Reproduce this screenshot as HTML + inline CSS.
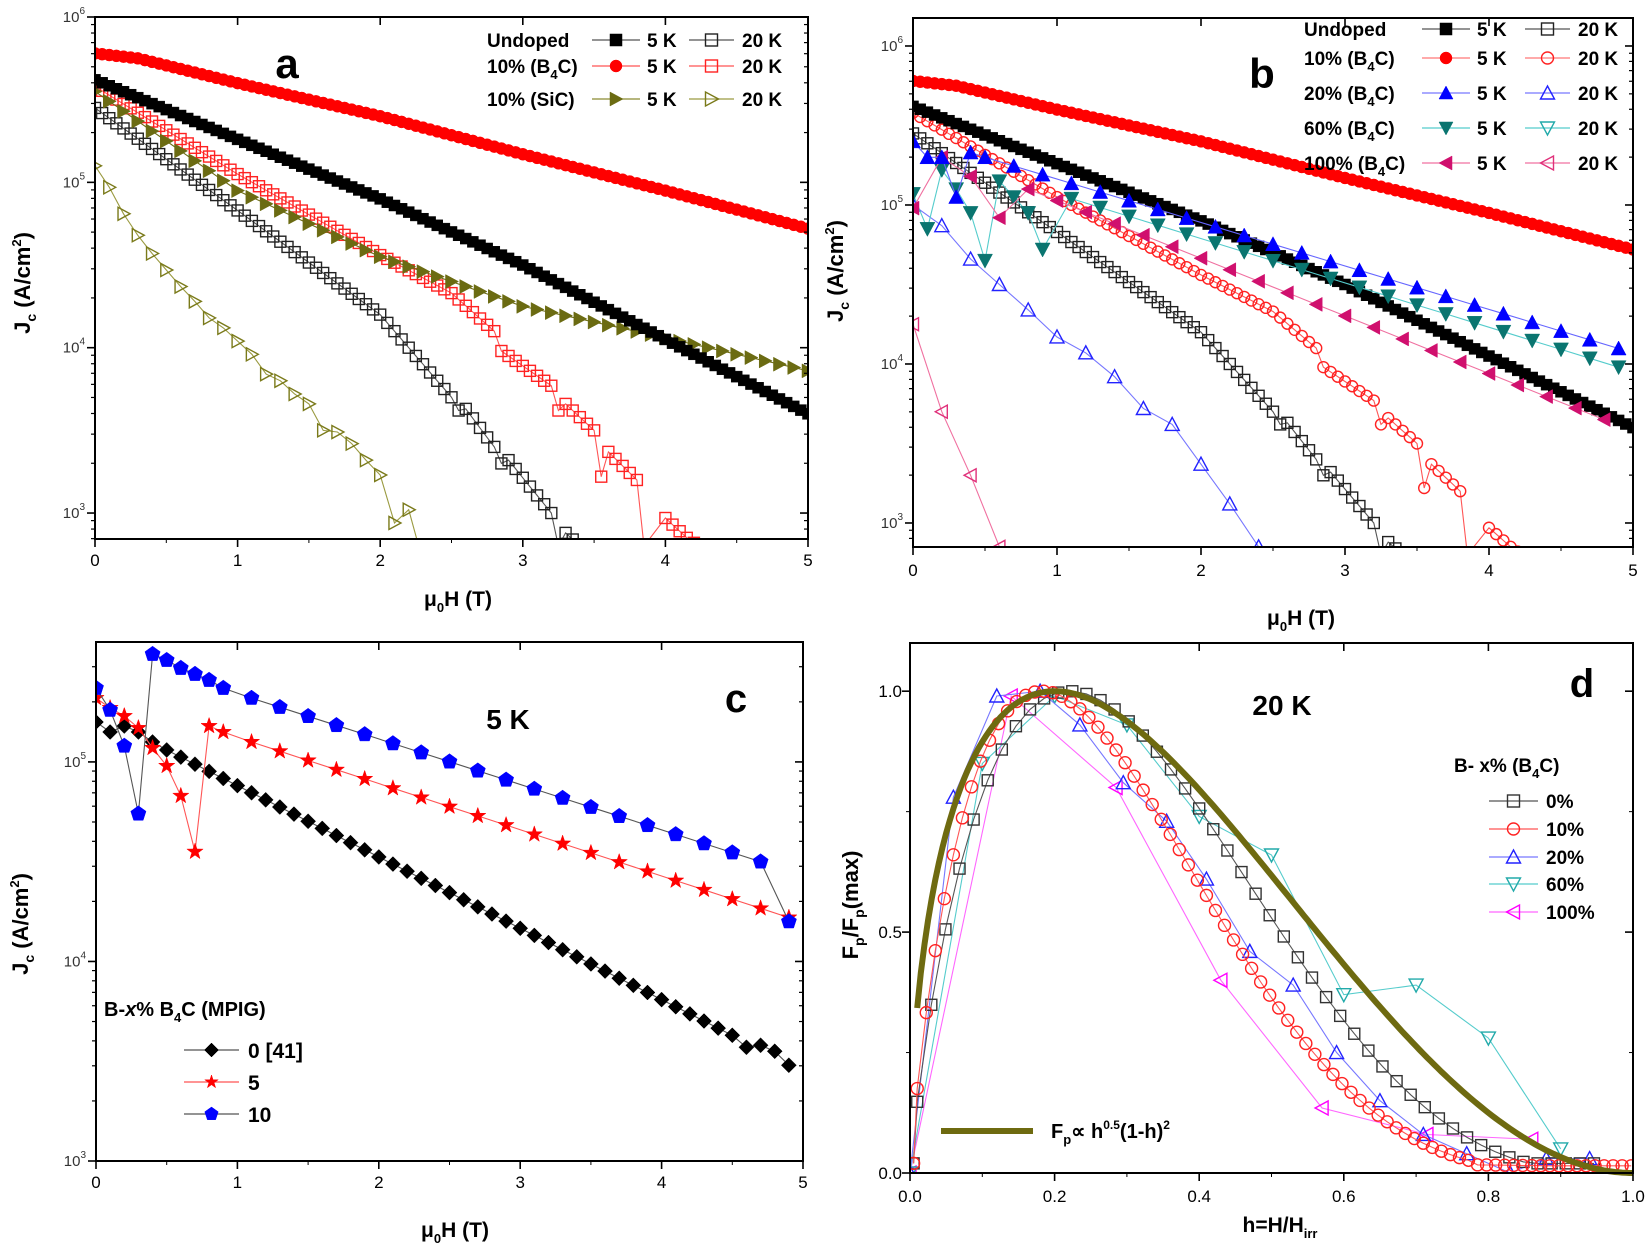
<!DOCTYPE html>
<html><head><meta charset="utf-8"><style>
html,body{margin:0;padding:0;background:#fff;}
svg{display:block;font-family:"Liberation Sans",Arial,sans-serif;}
</style></head><body>
<svg id="s" width="1650" height="1251" viewBox="0 0 1650 1251" xmlns="http://www.w3.org/2000/svg"></svg>
<script>
const S=document.getElementById('s');let out='';
function interp(pts,x){for(let i=0;i<pts.length-1;i++){if(x>=pts[i][0]&&x<=pts[i+1][0]){const t=(x-pts[i][0])/(pts[i+1][0]-pts[i][0]);return pts[i][1]+t*(pts[i+1][1]-pts[i][1]);}}return pts[pts.length-1][1];}
function gen(pts,x0,x1,st){const r=[];for(let x=x0;x<=x1+1e-9;x+=st)r.push([x,interp(pts,x)]);return r;}
function marker(type,x,y,fill,stroke,s){s=s||11;const h=s/2;const f=fill?stroke:'#fff';const sw=fill?0.5:1.4;let o='';
switch(type){
case 'sq':o=`<rect x="${x-h}" y="${y-h}" width="${s}" height="${s}" fill="${fill?stroke:'#fff'}" fill-opacity="${fill?1:0}" stroke="${stroke}" stroke-width="${sw}"/>`;break;
case 'ci':o=`<circle cx="${x}" cy="${y}" r="${h}" fill="${f}" fill-opacity="${fill?1:0}" stroke="${stroke}" stroke-width="${sw}"/>`;break;
case 'up':o=`<polygon points="${x},${y-h-1} ${x+h+1},${y+h} ${x-h-1},${y+h}" fill="${f}" fill-opacity="${fill?1:0}" stroke="${stroke}" stroke-width="${sw}"/>`;break;
case 'dn':o=`<polygon points="${x},${y+h+1} ${x+h+1},${y-h} ${x-h-1},${y-h}" fill="${f}" fill-opacity="${fill?1:0}" stroke="${stroke}" stroke-width="${sw}"/>`;break;
case 'rt':o=`<polygon points="${x+h+1},${y} ${x-h},${y-h-1} ${x-h},${y+h+1}" fill="${f}" fill-opacity="${fill?1:0}" stroke="${stroke}" stroke-width="${sw}"/>`;break;
case 'lt':o=`<polygon points="${x-h-1},${y} ${x+h},${y-h-1} ${x+h},${y+h+1}" fill="${f}" fill-opacity="${fill?1:0}" stroke="${stroke}" stroke-width="${sw}"/>`;break;
case 'di':o=`<polygon points="${x},${y-h-1} ${x+h+1},${y} ${x},${y+h+1} ${x-h-1},${y}" fill="${f}" stroke="${stroke}" stroke-width="${sw}"/>`;break;
case 'st':{let p=[];for(let i=0;i<10;i++){const a=-Math.PI/2+i*Math.PI/5;const r=i%2?h*0.45:h+1;p.push((x+r*Math.cos(a)).toFixed(1)+','+(y+r*Math.sin(a)).toFixed(1));}o=`<polygon points="${p.join(' ')}" fill="${f}" stroke="${stroke}" stroke-width="${sw}"/>`;}break;
case 'pe':{let p=[];for(let i=0;i<5;i++){const a=-Math.PI/2+i*2*Math.PI/5;p.push((x+(h+1)*Math.cos(a)).toFixed(1)+','+(y+(h+1)*Math.sin(a)).toFixed(1));}o=`<polygon points="${p.join(' ')}" fill="${f}" stroke="${stroke}" stroke-width="${sw}"/>`;}break;}
return o;}
function panel(P){
 const {L,R,T,B,x0,x1,y0,y1,log}=P;
 P.X=x=>L+(x-x0)/(x1-x0)*(R-L);
 P.Y=y=>B-(y-y0)/(y1-y0)*(B-T);
 out+=`<clipPath id="c${P.id}"><rect x="${L}" y="${T}" width="${R-L}" height="${B-T}"/></clipPath>`;
}
function axes(P,xt,xfmt,yt){
 const {L,R,T,B}=P;let o='';
 o+=`<rect x="${L}" y="${T}" width="${R-L}" height="${B-T}" fill="none" stroke="#000" stroke-width="2"/>`;
 xt.forEach(v=>{const x=P.X(v);o+=`<line x1="${x}" y1="${B}" x2="${x}" y2="${B+8}" stroke="#000" stroke-width="1.6"/><line x1="${x}" y1="${T}" x2="${x}" y2="${T+8}" stroke="#000" stroke-width="1.6"/><text x="${x}" y="${P.tly}" font-size="17" text-anchor="middle">${xfmt(v)}</text>`;});
 if(P.xminor)P.xminor.forEach(v=>{const x=P.X(v);o+=`<line x1="${x}" y1="${B}" x2="${x}" y2="${B+4}" stroke="#000" stroke-width="1.2"/>`;});
 if(P.log){for(let d=Math.floor(P.y0);d<=Math.ceil(P.y1);d++){for(let m=1;m<10;m++){const v=d+Math.log10(m);if(v<P.y0||v>P.y1)continue;const y=P.Y(v);const len=m==1?8:4;o+=`<line x1="${L-len}" y1="${y}" x2="${L}" y2="${y}" stroke="#000" stroke-width="${m==1?1.6:1.2}"/><line x1="${R}" y1="${y}" x2="${R-len}" y2="${y}" stroke="#000" stroke-width="${m==1?1.6:1.2}"/>`;if(m==1)o+=`<text x="${L-10}" y="${y+5}" font-size="15" text-anchor="end" fill="#333">10<tspan font-size="10" dy="-8">${d}</tspan></text>`;}}}
 else{yt.forEach(v=>{const y=P.Y(v);o+=`<line x1="${L-8}" y1="${y}" x2="${L}" y2="${y}" stroke="#000" stroke-width="1.6"/><line x1="${R}" y1="${y}" x2="${R-8}" y2="${y}" stroke="#000" stroke-width="1.6"/><text x="${L-8}" y="${y+6}" font-size="17" text-anchor="end">${v.toFixed(1)}</text>`;});
  [0.25,0.75].forEach(v=>{const y=P.Y(v);o+=`<line x1="${L-4}" y1="${y}" x2="${L}" y2="${y}" stroke="#000"/><line x1="${R}" y1="${y}" x2="${R-4}" y2="${y}" stroke="#000"/>`;});}
 out+=o;}
function series(P,data,type,fill,color,lineColor,s){
 let o=`<g clip-path="url(#c${P.id})">`;
 const pts=data.map(d=>[P.X(d[0]),P.Y(d[1])]);
 o+=`<polyline points="${pts.map(p=>p[0].toFixed(1)+','+p[1].toFixed(1)).join(' ')}" fill="none" stroke="${lineColor}" stroke-width="1.1"/>`;
 pts.forEach(p=>o+=marker(type,p[0],p[1],fill,color,s));
 out+=o+'</g>';}
function legItem(x1,x2,y,type,fill,color,lc){out+=`<line x1="${x1}" y1="${y}" x2="${x2}" y2="${y}" stroke="${lc}" stroke-width="1.3"/>`+marker(type,(x1+x2)/2,y,fill,color,12);}
function txt(x,y,t,fs,anchor,extra){out+=`<text x="${x}" y="${y}" font-size="${fs}" font-weight="bold" text-anchor="${anchor||'start'}" ${extra||''}>${t}</text>`;}

// data
const U5=[[0,5.62],[1,5.26],[2,4.9],[3,4.5],[4,4.05],[5,3.6]];
const B5=[[0,5.78],[0.3,5.75],[1,5.6],[2,5.4],[3,5.17],[4,4.95],[5,4.72]];
const B20=[[0,5.58],[1,5.05],[2,4.56],[2.5,4.33],[2.8,4.1],[2.85,3.98],[3.2,3.77],[3.25,3.62],[3.3,3.66],[3.5,3.5],[3.55,3.22],[3.6,3.37],[3.8,3.2],[3.85,2.8]];
const B20t=[[4.0,2.97],[4.05,2.93],[4.1,2.89],[4.15,2.85],[4.2,2.82]];
const U20=[[0,5.45],[1,4.83],[2,4.2],[2.5,3.7],[2.55,3.62],[2.6,3.63],[2.8,3.4],[2.85,3.3],[2.9,3.32],[3.2,3.0],[3.25,2.8]];
const U20t=[[3.3,2.88],[3.35,2.84]];
const S5=[[0,5.55],[1,4.95],[2,4.55],[3,4.25],[4,4.06],[5,3.86]];
const S20=[[0,5.1],[0.1,4.97],[0.2,4.81],[0.3,4.68],[0.4,4.57],[0.5,4.47],[0.6,4.37],[0.7,4.28],[0.8,4.18],[0.9,4.12],[1,4.04],[1.1,3.96],[1.2,3.84],[1.3,3.8],[1.4,3.72],[1.5,3.66],[1.6,3.5],[1.7,3.49],[1.8,3.42],[1.9,3.32],[2.0,3.23],[2.1,2.94],[2.2,3.02],[2.27,2.8]];

// Panel a
const A={id:'a',L:95,R:808,T:17,B:539,x0:0,x1:5,y0:2.843,y1:6,log:true,tly:566};panel(A);
const pick=(arr,st)=>gen(arr,0,arr[arr.length-1][0],st);
series(A,S20,'rt',false,'#7a7a1a','#9a9a40',11);
series(A,pick(U20,0.05).concat(U20t),'sq',false,'#222','#555',11);
series(A,pick(B20,0.05).concat(B20t),'sq',false,'#f22','#f55',11);
series(A,gen(S5,0,5,0.1),'rt',true,'#6b6b12','#6b6b12',12);
series(A,gen(U5,0,5,0.05),'sq',true,'#000','#000',11);
series(A,gen(B5,0,5,0.05),'ci',true,'#f00','#f00',12);
axes(A,[0,1,2,3,4,5],v=>v,[]);A.xminor=null;
[0.5,1.5,2.5,3.5,4.5].forEach(v=>{const x=A.X(v);out+=`<line x1="${x}" y1="${A.B}" x2="${x}" y2="${A.B+4}" stroke="#000"/>`});
txt(287,78,'a',42,'middle');
txt(30,283,'J<tspan font-size="14" dy="6">c</tspan><tspan dy="-6"> (A/cm</tspan><tspan font-size="13" dy="-9">2</tspan><tspan dy="9">)</tspan>',22,'middle','transform="rotate(-90 30 283)"');
txt(458,606,'μ<tspan font-size="13" dy="6">0</tspan><tspan dy="-6">H (T)</tspan>',21,'middle');
const la=[[40,'Undoped','sq',true,'#000','#555','sq',false,'#222','#555'],[66,'10% (B<tspan font-size="13" dy="6">4</tspan><tspan dy="-6">C)</tspan>','ci',true,'#f00','#f55','sq',false,'#f22','#f55'],[99,'10% (SiC)','rt',true,'#6b6b12','#8a8a30','rt',false,'#7a7a1a','#9a9a40']];
la.forEach(r=>{txt(487,r[0]+7,r[1],19);legItem(592,640,r[0],r[2],r[3],r[4],r[5]);txt(647,r[0]+7,'5 K',19);legItem(689,734,r[0],r[6],r[7],r[8],r[9]);txt(742,r[0]+7,'20 K',19);});

// Panel b
const Bp={id:'b',L:913,R:1633,T:18,B:547,x0:0,x1:5,y0:2.849,y1:6.176,log:true,tly:576};panel(Bp);
const T20=[[0,5.0],[0.2,4.87],[0.4,4.66],[0.6,4.5],[0.8,4.34],[1,4.17],[1.2,4.07],[1.4,3.92],[1.6,3.72],[1.8,3.62],[2.0,3.37],[2.2,3.12],[2.4,2.85]];
const P20=[[0,4.25],[0.2,3.7],[0.4,3.3],[0.6,2.85]];
const T5=[[0,5.4],[0.1,5.3],[0.2,5.3],[0.3,5.05],[0.4,5.33]].concat(gen([[0.5,5.3],[5,4.07]],0.5,4.9,0.2).map(d=>[d[0],d[1]]));
const V5=[[0,5.07],[0.1,4.85],[0.2,5.22],[0.3,5.1],[0.4,4.95],[0.5,4.65],[0.6,5.15],[0.7,5.05],[0.8,4.95],[0.9,4.72]].concat(gen([[1.1,5.04],[4.9,3.98]],1.1,4.9,0.2));
const L5=[[0,4.98],[0.2,5.3],[0.4,5.18],[0.6,4.92]].concat(gen([[0.8,5.1],[4.8,3.65]],0.8,4.8,0.2));
series(Bp,P20,'lt',false,'#e0307a','#f070a0',11);
series(Bp,T20,'up',false,'#22f','#77f',12);
series(Bp,pick(U20,0.05).concat(U20t),'sq',false,'#222','#555',11);
series(Bp,pick(B20,0.05).concat(B20t),'ci',false,'#f22','#f55',11);
series(Bp,gen(U5,0,5,0.05),'sq',true,'#000','#000',11);
series(Bp,V5,'dn',true,'#0a7570','#5cc','13');
series(Bp,L5,'lt',true,'#d0106e','#f070a0',12);
series(Bp,T5,'up',true,'#00f','#66f',13);
series(Bp,gen(B5,0,5,0.05),'ci',true,'#f00','#f00',12);
axes(Bp,[0,1,2,3,4,5],v=>v,[]);
[0.5,1.5,2.5,3.5,4.5].forEach(v=>{const x=Bp.X(v);out+=`<line x1="${x}" y1="${Bp.B}" x2="${x}" y2="${Bp.B+4}" stroke="#000"/>`});
txt(1262,88,'b',42,'middle');
txt(843,271,'J<tspan font-size="14" dy="6">c</tspan><tspan dy="-6"> (A/cm</tspan><tspan font-size="13" dy="-9">2</tspan><tspan dy="9">)</tspan>',22,'middle','transform="rotate(-90 843 271)"');
txt(1301,625,'μ<tspan font-size="13" dy="6">0</tspan><tspan dy="-6">H (T)</tspan>',21,'middle');
const B4='(B<tspan font-size="13" dy="6">4</tspan><tspan dy="-6">C)</tspan>';
const lb=[[29,'Undoped','sq',true,'#000','#555','sq',false,'#222','#555'],[58,'10% '+B4,'ci',true,'#f00','#f77','ci',false,'#f22','#f77'],[93,'20% '+B4,'up',true,'#00f','#77f','up',false,'#22f','#77f'],[128,'60% '+B4,'dn',true,'#0a7570','#5cc','dn',false,'#2aa','#5cc'],[163,'100% '+B4,'lt',true,'#d0106e','#f070a0','lt',false,'#e0307a','#f070a0']];
lb.forEach(r=>{txt(1304,r[0]+7,r[1],19);legItem(1422,1470,r[0],r[2],r[3],r[4],r[5]);txt(1477,r[0]+7,'5 K',19);legItem(1525,1570,r[0],r[6],r[7],r[8],r[9]);txt(1578,r[0]+7,'20 K',19);});

// Panel c
const C={id:'c',L:96,R:803,T:642,B:1161,x0:0,x1:5,y0:3,y1:5.601,log:true,tly:1188};panel(C);
const D0=[[0,5.2],[0.1,5.15],[0.2,5.18],[0.3,5.15],[0.4,5.1]].concat(gen([[0.5,5.06],[4.5,3.63]],0.5,4.5,0.1)).concat([[4.6,3.57],[4.7,3.58],[4.8,3.55],[4.9,3.48]]);
const ST=[[0,5.32],[0.1,5.27],[0.2,5.23],[0.3,5.17],[0.4,5.07],[0.5,4.98],[0.6,4.83],[0.7,4.55],[0.8,5.18],[0.9,5.15]].concat(gen([[1.1,5.1],[4.9,4.22]],1.1,4.9,0.2));
const PE=[[0,5.37],[0.1,5.26],[0.2,5.08],[0.3,4.74],[0.4,5.54],[0.5,5.51],[0.6,5.47],[0.7,5.44],[0.8,5.41],[0.9,5.37]].concat(gen([[1.1,5.32],[4.7,4.5]],1.1,4.7,0.2)).concat([[4.9,4.2]]);
series(C,D0,'di',true,'#000','#555',13);
series(C,ST,'st',true,'#f00','#f55',15);
series(C,PE,'pe',true,'#00f','#555',14);
axes(C,[0,1,2,3,4,5],v=>v,[]);
[0.5,1.5,2.5,3.5,4.5].forEach(v=>{const x=C.X(v);out+=`<line x1="${x}" y1="${C.B}" x2="${x}" y2="${C.B+4}" stroke="#000"/>`});
txt(508,729,'5 K',28,'middle');
txt(736,712,'c',40,'middle');
txt(28,924,'J<tspan font-size="14" dy="6">c</tspan><tspan dy="-6"> (A/cm</tspan><tspan font-size="13" dy="-9">2</tspan><tspan dy="9">)</tspan>',22,'middle','transform="rotate(-90 28 924)"');
txt(455,1237,'μ<tspan font-size="13" dy="6">0</tspan><tspan dy="-6">H (T)</tspan>',21,'middle');
txt(104,1016,'B-<tspan font-style="italic">x</tspan>% B<tspan font-size="13" dy="6">4</tspan><tspan dy="-6">C (MPIG)</tspan>',20);
[[1050,'0 [41]','di','#000','#555'],[1082,'5','st','#f00','#f55'],[1114,'10','pe','#00f','#555']].forEach(r=>{legItem(184,239,r[0],r[2],true,r[3],r[4]);txt(248,r[0]+8,r[1],21);});

// Panel d
const Dp={id:'d',L:910,R:1633,T:643,B:1173,x0:0,x1:1,y0:0,y1:1.1,log:false,tly:1202};panel(Dp);
function shape(a,b,tail){const hp=a/(a+b);const pk=Math.pow(hp,a)*Math.pow(1-hp,b);return h=>Math.max(Math.pow(h,a)*Math.pow(1-h,b)/pk,tail||0);}
const f0=shape(0.85,3);const sq0=[[0.005,0.02]];for(let h=0.01;h<=0.95;h+=0.0195)sq0.push([h,Math.max(f0(h),0.02)]);
const f1=shape(0.85,3.8);const ci1=[[0.005,0.02]];for(let h=0.01;h<=1.0;h+=0.0125)ci1.push([h,h>0.78?0.015+0.02*Math.max(0,0.88-h):f1(h)]);
const tri=[[0,0],[0.06,0.78],[0.12,0.99],[0.18,1.0],[0.235,0.93],[0.295,0.81],[0.355,0.73],[0.41,0.61],[0.47,0.46],[0.53,0.39],[0.59,0.25],[0.65,0.15],[0.71,0.08],[0.77,0.04],[0.83,0.0],[0.88,0.03],[0.94,0.03]];
const dn=[[0,0],[0.1,0.85],[0.2,0.99],[0.3,0.93],[0.4,0.74],[0.5,0.66],[0.6,0.37],[0.7,0.39],[0.8,0.28],[0.9,0.05]];
const lt=[[0,0],[0.14,0.99],[0.285,0.80],[0.43,0.40],[0.57,0.135],[0.715,0.08],[0.86,0.07]];
series(Dp,lt,'lt',false,'#f0f','#f6f',12);
series(Dp,dn,'dn',false,'#2aa','#5cc',12);
series(Dp,tri,'up',false,'#22f','#77f',12);
series(Dp,sq0,'sq',false,'#333','#555',11);
series(Dp,ci1,'ci',false,'#f22','#f55',12);
let fit=[];const fk=Math.sqrt(0.2)*0.64;for(let h=0.01;h<=1.0001;h+=0.005)fit.push(Dp.X(h).toFixed(1)+','+Dp.Y(Math.sqrt(h)*Math.pow(1-h,2)/fk).toFixed(1));
out+=`<polyline points="${fit.join(' ')}" fill="none" stroke="#6e6a10" stroke-width="6"/>`;
axes(Dp,[0,0.2,0.4,0.6,0.8,1.0],v=>v.toFixed(1),[0,0.5,1.0]);
[0.1,0.3,0.5,0.7,0.9].forEach(v=>{const x=Dp.X(v);out+=`<line x1="${x}" y1="${Dp.B}" x2="${x}" y2="${Dp.B+4}" stroke="#000"/>`});
txt(1282,715,'20 K',28,'middle');
txt(1582,697,'d',40,'middle');
txt(858,905,'F<tspan font-size="14" dy="6">p</tspan><tspan dy="-6">/F</tspan><tspan font-size="14" dy="6">p</tspan><tspan dy="-6">(max)</tspan>',22,'middle','transform="rotate(-90 858 905)"');
txt(1280,1232,'h=H/H<tspan font-size="13" dy="6">irr</tspan>',21,'middle');
txt(1454,772,'B- x% (B<tspan font-size="13" dy="6">4</tspan><tspan dy="-6">C)</tspan>',19);
[[801,'0%','sq','#333','#555'],[829,'10%','ci','#f22','#f55'],[857,'20%','up','#22f','#77f'],[884,'60%','dn','#2aa','#5cc'],[912,'100%','lt','#f0f','#f6f']].forEach(r=>{legItem(1489,1538,r[0],r[2],false,r[3],r[4]);txt(1546,r[0]+7,r[1],19);});
out+=`<line x1="941" y1="1131" x2="1033" y2="1131" stroke="#6e6a10" stroke-width="6"/>`;
txt(1051,1138,'F<tspan font-size="13" dy="6">p</tspan><tspan dy="-6">∝ h</tspan><tspan font-size="12" dy="-9">0.5</tspan><tspan dy="9">(1-h)</tspan><tspan font-size="12" dy="-9">2</tspan>',20);
S.innerHTML=out;
</script>
</body></html>
